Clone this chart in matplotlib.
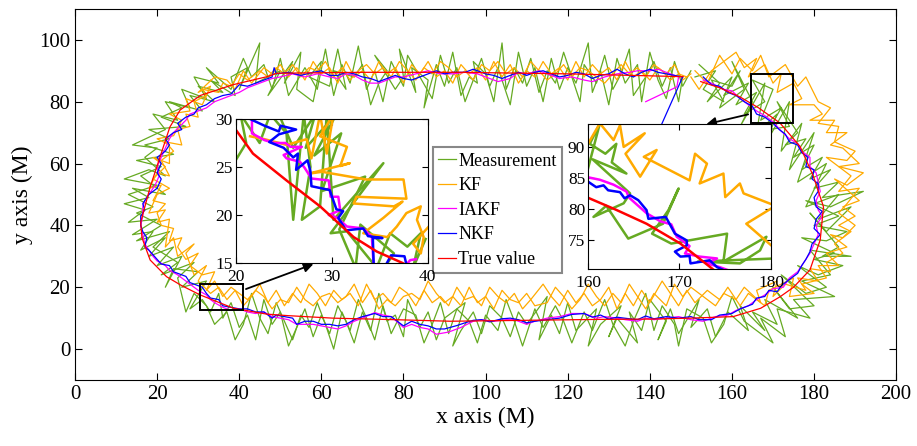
import matplotlib.pyplot as plt
import numpy as np
from matplotlib.patches import Rectangle

plt.rcParams['font.family'] = ['Liberation Serif', 'DejaVu Serif']

# colours (MATLAB-ish)
C_MEAS = '#66aa22'
C_KF = '#ffaa00'
C_IAKF = '#ff00ff'
C_NKF = '#0000ff'
C_TRUE = '#ff0000'

# ---------------- main trajectory data (x, y), clockwise from top right ----------------
true_pts = [(152.4, 86.5), (157, 84.5), (162, 81.5), (166.5, 78), (171.7, 73.1), (176.6, 65.5),
            (179.8, 56), (182.3, 46), (181.5, 35.3), (179, 25.6), (175, 20), (171.7, 16.9),
            (167, 13.2), (160.3, 10.5), (150, 10), (140, 9.7), (128, 9.6), (115.7, 9.4),
            (104, 9.2), (91.4, 9.0), (78, 9.5), (62.8, 10), (52, 10.8), (46.7, 11.3),
            (38.6, 13.2), (30.5, 17.5), (26, 20.5), (22.3, 23.4), (18.3, 28.8), (16.3, 36),
            (16.0, 41), (16.6, 44), (18.3, 52.4), (20.7, 62.1), (23.1, 71.8), (25.6, 77.3),
            (30.5, 82), (38.5, 85.5), (46.8, 88.1), (49.2, 89.2), (70, 89.5), (93.8, 89.5),
            (120, 89), (148.1, 88.1)]

# measurement, first pass
meas_right = [(151, 88), (156, 90), (153, 84), (158, 80), (155, 87), (160, 85), (162, 90), (158, 82),
              (164, 86), (161, 79), (166, 83), (163, 76), (168, 80), (165, 87), (170, 84), (167, 74),
              (172, 78), (169, 71), (174, 72), (171, 80), (176, 70), (173, 66), (178, 68), (175, 62),
              (180, 66), (177, 58), (182, 62), (179, 55), (184, 58), (180, 52), (186, 54), (182, 49),
              (192, 51), (184, 46), (178, 48), (186, 43), (180, 40), (188, 38), (183, 35), (177, 36),
              (185, 31), (180, 29), (187, 27), (181, 24), (176, 27), (183, 20), (178, 18), (172, 24),
              (180, 14), (174, 13), (170, 20), (176, 10), (168, 16), (171, 8), (165, 12), (168, 6),
              (162, 14), (164, 6), (159, 12)]
meas_bottom = [(156, 4), (154, 13), (150, 7), (152, 16), (147, 5), (145, 13), (142, 3), (144, 9),
               (140, 16), (138, 6), (135, 12), (137, 2), (132, 10), (130, 4), (133, 14), (128, 8),
               (125, 1), (127, 13), (122, 6), (120, 15), (118, 5), (116, 11), (113, 3), (115, 17),
               (110, 8), (108, 12), (106, 4), (104, 10), (101, 14), (99, 5), (97, 12), (94, 6),
               (92, 1), (95, 15), (90, 10), (88, 3), (86, 12), (84, 7), (81, 16), (80, 4), (78, 11),
               (76, 9), (74, 18), (72, 6), (70, 12), (68, 2), (66, 9), (64, 14), (62, 5), (60, 11),
               (58, 4), (56, 13), (54, 7), (52, 1), (50, 12), (48, 8), (46, 16), (44, 3), (42, 11),
               (40, 7), (38, 15), (36, 10), (35, 18), (33, 12), (31, 16)]
meas_left = [(28, 13), (32, 22), (26, 20), (30, 25), (24, 26), (22, 20), (26, 30), (20, 27), (24, 33),
             (18, 30), (22, 36), (16, 32), (19, 38), (14, 37), (20, 42), (13, 41), (17, 45), (12, 47),
             (18, 49), (14, 52), (22, 50), (16, 56), (21, 59), (15, 61), (24, 63), (17, 66), (23, 68),
             (18, 71), (27, 72), (21, 75), (26, 78), (23, 80), (31, 77), (28, 82), (34, 80), (30, 85),
             (36, 83), (33, 87), (39, 82), (38, 88), (42, 91), (40, 84), (45, 99), (44, 86), (50, 90),
             (47, 82), (53, 93), (51, 86)]
meas_top = [(55, 96), (54, 84), (58, 80), (60, 93), (57, 88), (62, 85), (64, 97), (66, 84), (63, 90),
            (68, 88), (70, 92), (72, 79), (74, 86), (76, 90), (73, 95), (78, 84), (80, 88), (79, 97),
            (83, 83), (82, 91), (86, 87), (85, 78), (88, 92), (90, 85), (92, 96), (94, 82), (96, 88),
            (98, 86), (97, 93), (100, 89), (102, 80), (104, 99), (105, 84), (107, 91), (109, 86),
            (111, 94), (113, 83), (115, 90), (117, 86), (119, 96), (121, 88), (123, 80), (124, 92),
            (127, 86), (129, 95), (131, 84), (133, 89), (135, 97), (136, 82), (139, 88), (141, 93),
            (143, 85), (145, 91), (147, 80), (148, 88)]

# measurement, second pass (same series, drawn as a second stroke)
meas2_right = [(152, 92), (157, 86), (154, 80), (160, 88), (157, 78), (163, 84), (160, 93), (165, 80),
               (162, 72), (168, 86), (166, 70), (171, 76), (168, 66), (174, 80), (172, 64), (177, 73),
               (174, 58), (180, 70), (176, 54), (183, 60), (178, 46), (186, 50), (181, 42), (189, 46),
               (183, 38), (179, 44), (186, 33), (182, 30), (189, 30), (179, 32), (184, 24), (177, 22),
               (185, 17), (175, 16), (179, 10), (171, 13), (173, 4), (167, 10), (170, 2), (163, 9),
               (160, 17)]
meas2_bottom = [(158, 8), (155, 2), (153, 10), (149, 13), (147, 1), (146, 8), (143, 14), (141, 6),
                (139, 18), (136, 9), (134, 1), (131, 8), (129, 16), (126, 6), (124, 12), (121, 2),
                (119, 9), (117, 14), (114, 7), (112, 13), (109, 1), (107, 9), (105, 16), (103, 6),
                (100, 11), (98, 2), (96, 9), (93, 13), (91, 5), (89, 15), (87, 8), (85, 2), (83, 11),
                (80, 13), (77, 5), (75, 14), (73, 3), (71, 10), (69, 16), (67, 6), (65, 12), (63, 0),
                (61, 8), (59, 15), (57, 7), (55, 11), (53, 3), (51, 9), (49, 15), (47, 5), (45, 10),
                (43, 18), (41, 8), (39, 3), (37, 12), (34, 8), (32, 14)]
meas2_left = [(29, 18), (27, 12), (25, 23), (29, 28), (21, 24), (25, 28), (19, 33), (23, 38), (15, 35),
              (21, 40), (15, 44), (19, 46), (13, 50), (20, 53), (12, 55), (18, 58), (22, 56), (17, 62),
              (20, 65), (14, 66), (22, 71), (19, 76), (25, 74), (22, 80), (28, 78), (26, 84), (32, 81),
              (29, 88), (35, 86), (32, 91), (38, 84), (41, 94), (43, 88), (46, 92), (48, 84)]
meas2_top = [(50, 94), (52, 82), (56, 91), (59, 84), (61, 97), (63, 82), (65, 92), (67, 86), (69, 98),
             (71, 84), (73, 90), (75, 80), (77, 93), (80, 85), (81, 95), (84, 88), (87, 81), (89, 95),
             (91, 86), (93, 91), (95, 80), (99, 94), (101, 85), (103, 91), (106, 79), (108, 96),
             (110, 85), (112, 91), (114, 80), (116, 94), (118, 84), (120, 91), (122, 86), (125, 99),
             (126, 83), (128, 90), (130, 79), (132, 94), (134, 86), (137, 92), (138, 80), (140, 96),
             (142, 87), (144, 81), (146, 93), (148, 85), (150, 90)]

# KF estimate, first pass
kf_right = [(150, 88), (152, 84), (155, 90), (158, 93), (161, 96), (163, 91), (166, 94), (164, 88),
            (168, 92), (170, 86), (172, 89), (171, 83), (175, 86), (177, 81), (174, 79), (180, 79),
            (182, 76), (179, 74), (185, 74), (183, 70), (188, 70), (184, 66), (187, 65), (191, 60),
            (186, 59), (192, 57), (188, 53), (185, 55), (191, 48), (187, 46), (190, 43), (186, 40),
            (189, 38), (185, 34), (187, 31), (183, 28), (184, 25), (179, 26), (181, 22), (176, 23),
            (178, 19), (173, 21), (170, 17), (171, 22), (166, 19), (167, 15), (163, 20), (161, 16),
            (158, 18), (156, 14), (153, 17)]
kf_bottom = [(150, 20), (148, 17), (146, 21), (144, 14), (141, 18), (139, 13), (137, 17), (135, 21),
             (133, 15), (131, 18), (129, 14), (127, 17), (125, 21), (123, 16), (121, 13), (119, 17),
             (117, 20), (115, 15), (112, 14), (110, 18), (108, 15), (106, 16), (104, 19), (102, 13),
             (100, 17), (98, 15), (96, 20), (94, 14), (92, 17), (90, 15), (88, 18), (86, 22), (84, 16),
             (82, 18), (80, 17), (78, 14), (76, 16), (74, 13), (72, 19), (70, 15), (68, 21), (66, 17),
             (64, 15), (62, 18), (60, 17), (58, 14), (56, 16), (54, 20), (52, 15), (50, 16), (48, 13),
             (46, 17), (44, 19), (42, 16), (40, 18), (38, 20), (36, 17), (34, 22)]
kf_left = [(32, 19), (34, 25), (31, 24), (28, 27), (30, 31), (27, 29), (25, 33), (26, 36), (23, 35),
           (24, 39), (21, 40), (20, 44), (22, 47), (19, 48), (21, 53), (18, 52), (20, 57), (23, 56),
           (21, 61), (24, 64), (22, 67), (26, 66), (25, 71), (28, 72), (27, 76), (30, 75), (29, 80),
           (32, 82), (31, 84), (35, 83), (36, 86), (38, 85), (40, 89), (42, 87), (45, 90), (47, 88),
           (49, 91)]
kf_top = [(51, 89), (53, 92), (55, 88), (57, 91), (59, 90), (61, 93), (63, 88), (65, 91), (67, 87),
          (69, 90), (71, 92), (73, 89), (75, 91), (77, 88), (79, 93), (81, 90), (83, 87), (85, 91),
          (87, 89), (89, 93), (91, 91), (93, 88), (95, 90), (97, 87), (99, 92), (101, 90), (103, 93),
          (105, 89), (107, 91), (109, 88), (111, 93), (113, 90), (115, 87), (117, 89), (119, 92),
          (121, 88), (123, 91), (125, 90), (127, 88), (129, 86), (131, 89), (133, 92), (135, 89),
          (137, 91), (139, 88), (141, 92), (143, 90), (145, 87), (147, 89), (149, 88)]

# KF estimate, second pass
kf2_right = [(151, 90), (154, 86), (157, 95), (160, 89), (162, 94), (165, 90), (167, 95), (169, 88),
             (173, 92), (176, 85), (178, 88), (181, 80), (184, 78), (181, 73), (186, 72), (185, 67),
             (190, 64), (188, 61), (183, 62), (189, 56), (186, 51), (191, 52), (188, 47), (186, 44),
             (190, 40), (187, 36), (184, 37), (188, 33), (183, 31), (186, 27), (181, 27), (183, 23),
             (177, 21), (180, 18), (174, 17), (175, 23), (169, 19), (168, 14), (164, 18), (162, 14),
             (159, 20), (157, 16)]
kf2_bottom = [(154, 19), (151, 15), (149, 19), (147, 14), (145, 18), (143, 22), (140, 15), (138, 19),
              (136, 14), (134, 18), (132, 13), (130, 20), (128, 16), (126, 14), (124, 18), (122, 15),
              (120, 19), (118, 14), (116, 17), (114, 21), (111, 16), (109, 13), (107, 18), (105, 15),
              (103, 17), (101, 20), (99, 14), (97, 17), (95, 16), (93, 20), (91, 14), (89, 17),
              (87, 15), (85, 19), (83, 14), (81, 18), (79, 20), (77, 15), (75, 18), (73, 16), (71, 21),
              (69, 14), (67, 18), (65, 16), (63, 19), (61, 14), (59, 18), (57, 21), (55, 15), (53, 18),
              (51, 14), (49, 19), (47, 15), (45, 21), (43, 17), (41, 14), (39, 19), (37, 16), (35, 20),
              (33, 18)]
kf2_left = [(30, 22), (32, 27), (29, 24), (27, 31), (29, 34), (25, 30), (24, 36), (22, 33), (23, 42),
            (20, 41), (22, 45), (18, 44), (20, 50), (23, 52), (19, 55), (22, 59), (19, 62), (23, 60),
            (23, 66), (20, 68), (24, 69), (26, 74), (23, 76), (28, 77), (27, 81), (31, 79), (33, 85),
            (30, 83), (34, 88), (37, 87), (39, 84), (41, 90), (43, 86), (46, 91), (48, 89)]
kf2_top = [(50, 92), (52, 88), (54, 91), (56, 87), (58, 93), (60, 89), (62, 91), (64, 86), (66, 93),
           (68, 88), (70, 90), (72, 87), (74, 93), (76, 89), (78, 91), (80, 86), (82, 92), (84, 89),
           (86, 93), (88, 88), (90, 90), (92, 86), (94, 92), (96, 89), (98, 91), (100, 87), (102, 93),
           (104, 88), (106, 92), (108, 86), (110, 90), (112, 88), (114, 93), (116, 89), (118, 91),
           (120, 87), (122, 93), (124, 88), (126, 92), (128, 89), (130, 91), (132, 87), (134, 93),
           (136, 88), (138, 90), (140, 87), (142, 91), (144, 89), (146, 92), (148, 87), (150, 89)]

iakf_pts = [(153, 87), (155, 86), (158, 84), (160, 83.5), (162, 81), (164, 79), (166, 77), (168, 75.5),
            (170, 73.5), (172, 70.5), (174, 68), (176, 66.5), (177, 64), (179, 62), (179, 59),
            (180.5, 57), (181, 54), (181.5, 51), (180.5, 48), (181, 45), (182, 43), (180.5, 40),
            (181, 37), (180, 34), (179, 31), (177.5, 28), (176, 25), (174, 23), (172.5, 20),
            (170, 19.5), (168, 17.5), (166, 16), (164, 14), (161, 12.5), (159, 11), (156, 10.5),
            (153, 9), (150, 9.5), (147, 10.5), (144, 10), (141, 9.5), (139, 10), (137, 9), (134, 9.5),
            (132, 10), (129, 10.5), (127, 10), (124, 11.5), (121, 11.5), (118, 10.5), (115, 10),
            (112, 9), (110, 8), (107, 9.5), (105, 9.5), (102, 9), (99, 9.5), (97, 9), (94, 7),
            (91, 5.5), (88, 4.8), (86, 6.5), (84, 7), (82, 8), (80, 7), (77, 10.5), (75, 11),
            (73, 11.8), (70, 10), (68, 9), (66, 7.5), (64, 6.5), (62, 7), (60, 7.5), (58, 8), (56, 8),
            (54, 8), (52, 9.5), (50, 10), (48, 10.5), (46, 12), (44, 11.5), (42, 12), (40, 13),
            (38, 12.5), (36, 13.5), (34, 15), (33, 16), (32, 17.5), (30, 19), (28, 21), (26, 23),
            (25, 24), (23, 25.5), (22, 27), (20, 28.5), (19, 30), (18, 32), (17, 34), (16.5, 37),
            (16, 40), (16.5, 43), (16.5, 46), (17, 48), (18, 50), (19.5, 53), (20.5, 56), (20, 59),
            (21, 62), (22, 65), (23, 68), (24, 70), (25.5, 72), (27, 74), (28, 76), (30, 77), (32, 78),
            (34, 80), (36, 81), (38, 82), (40, 83), (42, 84.5), (44, 85.5), (46, 86.5), (48, 87.5),
            (50, 88), (53, 89), (56, 88), (59, 89), (62, 88), (64, 87.5), (66, 89), (68, 88.5),
            (70, 87), (72, 86), (74, 86), (76, 87), (78, 88), (80, 88), (83, 89), (86, 90), (89, 89),
            (92, 89), (95, 89.5), (98, 89), (100, 88), (103, 86.5), (106, 87.5), (108, 89.5),
            (110, 89), (113, 90), (115, 89), (118, 87.5), (121, 88), (124, 87), (126, 86.5), (129, 88),
            (132, 89), (135, 89.5), (137, 90), (140, 90), (142, 90.5), (145, 89), (147, 88),
            (146.6, 84.8), (139, 80)]

nkf_pts = [(153, 88), (155, 85.5), (157, 85), (159, 83), (161, 82), (163, 80), (165, 78.5), (166, 76),
           (168, 75), (170, 73), (171.5, 71), (173, 69.5), (174, 67), (176, 66), (177, 63.5),
           (178.5, 62), (178, 59), (180, 58), (179.5, 55), (181, 53.5), (181, 51), (180, 49),
           (180.5, 46), (182, 44.5), (180.5, 42), (180, 39), (181.5, 37), (179.5, 34), (179, 31.5),
           (178, 29), (177, 27), (176, 24.5), (174, 22.5), (172, 20.5), (171, 18.5), (169, 19),
           (168, 17), (166, 16.5), (165, 14.5), (162, 13), (160, 11.5), (157, 11), (155, 9.5),
           (152, 9.5), (150, 10.5), (147, 10), (144, 10.5), (141, 9.8), (139, 10.7), (137, 9.5),
           (135, 9.8), (132, 10.3), (130, 9.7), (128, 11), (126, 10.3), (124, 11.5), (121, 11.2),
           (118, 10), (115, 9.5), (112, 9), (110, 8.5), (108, 9.5), (106, 10), (104, 9.8), (101, 8.8),
           (99, 9.5), (97, 9.3), (95, 8.5), (93, 7.6), (90, 6.5), (88, 6.5), (86, 7.5), (84, 8),
           (82, 9), (80, 7.5), (77, 10.5), (75, 10.5), (73, 11.5), (70, 10.5), (68, 9.5), (66, 8),
           (64, 7.5), (62, 8), (60, 8), (58, 9), (56, 9), (54, 8), (53, 10), (51, 10.5), (49, 11),
           (48, 10), (46, 12), (44, 12), (42, 13), (40, 13), (38, 13.5), (36, 14), (35, 16),
           (33, 16.5), (32, 18), (31, 20), (29, 21), (28, 21.5), (27, 23.5), (25, 24.5), (24, 25),
           (23, 27), (21, 27.5), (20, 29), (19, 30.5), (18, 32), (17, 33), (17.5, 36), (16.5, 38),
           (16, 40), (16, 43), (17, 45), (16.5, 47), (17.5, 49), (18, 50), (20, 52), (21, 55),
           (20, 57), (21, 60), (20, 62), (22, 64), (23, 66), (22, 68), (24, 70), (26, 71), (25, 73),
           (27, 75), (29, 76), (30, 78), (32, 79), (34, 81), (36, 82), (38, 82.5), (39, 84),
           (40, 85.5), (42, 85), (44, 86), (46, 87), (48, 88), (48.5, 91), (49, 89), (52, 89.5),
           (55, 88.5), (58, 89.5), (60, 90), (62, 88.5), (64, 88.5), (66, 89.5), (68, 89), (70, 88),
           (72, 87.5), (74, 86.5), (76, 87.5), (78, 88.5), (80, 87.5), (82, 87), (84, 88), (86, 89),
           (88, 90), (90, 89), (92, 89.5), (95, 89.5), (97, 90.5), (100, 89), (102, 88.5),
           (104, 87.5), (106, 88.5), (108, 89.5), (110, 88.5), (112, 89.5), (114, 90), (116, 89),
           (118, 88), (120, 88.5), (122, 89.5), (124, 89), (126, 87.5), (128, 88.5), (130, 89),
           (132, 90.5), (134, 89), (136, 88), (138, 89.5), (140, 90.5), (142, 89.5), (144, 89),
           (146, 88.5), (148, 88), (139.3, 62)]

# ---------------- zoom window 1 (x 20-40, y 15-30) ----------------
z1_meas = [(20, 25.7), (21.1, 27.5), (20.5, 30.5), (22.5, 27.5), (23.6, 30.5), (25.3, 28.5),
           (26, 19.5), (27.1, 30.5), (27.8, 25), (26.9, 19.5), (28.8, 20.9), (29.5, 30.5),
           (30.2, 19.5), (35.4, 25.4), (29.9, 18.1), (31.6, 18.3), (34.7, 14.5), (36.1, 18.1),
           (37.9, 16.7), (39.3, 18.1), (38.5, 14.5), (39.8, 17.5)]
z1_meas2 = [(24.5, 30.5), (26, 27), (28.3, 30.5), (27.3, 27), (30.5, 30.5), (28.2, 26.2), (31, 28.5),
            (29, 22.5), (33.5, 24), (30.8, 18.5), (32.5, 14.5), (33, 19), (36.5, 16), (35.5, 14.5)]
z1_kf = [(21.5, 28.2), (23, 27.9), (25.3, 27.3), (27.4, 27.9), (27.9, 25.9), (28.8, 30.5),
         (29.5, 26.4), (30.2, 30.5), (28.8, 28.2), (31.6, 27.1), (30.9, 25.1), (31.9, 25.4),
         (27.6, 24.3), (29, 24.5), (33.6, 23.7), (37.5, 23.7), (37.8, 21.7), (32.6, 21.9),
         (32.3, 21.2), (35.1, 21), (36.5, 20.9), (37.4, 21.4), (35.4, 19.7), (33.3, 18.1),
         (35.8, 17.7), (36.8, 18.8), (37.8, 20.2), (39.3, 20.9), (38.9, 19.5), (39.6, 17.7),
         (39.3, 16), (38.5, 17), (40.5, 19.2)]
z1_iakf = [(21.7, 30), (21.7, 28.5), (23, 27.8), (24, 27.5), (25.2, 27.5), (25.7, 27.1), (26.9, 27.1),
           (25, 26.25), (25.3, 25.9), (26.7, 25.55), (27.2, 24.9), (27.9, 23.8), (29.7, 23.6),
           (29.9, 21.9), (30.7, 21.9), (30.9, 20.5), (29.7, 20), (30.6, 19.7), (31.6, 18.8),
           (33.3, 18.6), (34.2, 17.7), (34.4, 14.5), (37.5, 14.5), (38.2, 15.3), (38.8, 15.4)]
z1_nkf = [(21.5, 30), (23, 29.3), (24.5, 28.7), (24.7, 29.3), (26.3, 28.9), (24.5, 28.4), (23.5, 27.6),
          (25, 27), (26, 26), (26.5, 26.4), (26.3, 24.7), (27.5, 25.7), (27.8, 24.5), (27.9, 23),
          (29.8, 22.6), (30.5, 20.6), (31.2, 20.4), (30.7, 19.7), (31.5, 18.4), (33.3, 18.6),
          (33.8, 17.8), (35.3, 17.6), (34.3, 17.6), (34.4, 14.5), (35.5, 14.5), (36.2, 15.8),
          (37.6, 15.7), (38, 14)]
z1_true = [(20, 28.9), (21.8, 26.4), (25.3, 23.6), (28.8, 20.9), (32.3, 17.7), (34.7, 16.2),
           (37.4, 15), (39, 14)]

# ---------------- zoom window 2 (x 160-180, y 70-94) ----------------
z2_meas = [(160, 86.5), (161.3, 93.8), (160.2, 90.5), (161.9, 88.9), (163.1, 90.5), (162.6, 87.5),
           (164.2, 85.7), (160.5, 88), (164.6, 82.5), (163.9, 80.9), (160.6, 78.7), (162, 80.5),
           (164.4, 75.2), (168.2, 77.6), (169.9, 83.3), (168.8, 79.8), (167, 76), (169.1, 74.4),
           (175.2, 76), (174.8, 71.5), (179.5, 75.5), (178.8, 73.3), (176.6, 71.2), (172, 71.5),
           (180.5, 72)]
z2_meas2 = []
z2_kf = [(160, 90.5), (161.3, 93.8), (162.8, 91.1), (163.5, 93.5), (163.9, 90), (166.2, 92.2),
         (164.1, 88.9), (165.7, 85.2), (167.5, 89.5), (166.1, 88.4), (171.1, 84.6), (171.7, 88.9),
         (173, 87.3), (172.2, 84.1), (174.8, 85.7), (175, 81.9), (176.6, 84.1), (177, 82.5),
         (180.5, 80.5), (177.3, 77.6), (180.5, 73.5)]
z2_iakf = [(160, 85.1), (161.3, 84.7), (162.8, 83.9), (164.2, 82.8), (164.5, 81.8), (166.4, 79.3),
           (167.9, 78), (169.1, 77.5), (169.7, 75.5), (171.1, 74), (170.6, 72.8), (172.2, 72.3),
           (174.1, 72), (173, 71.2), (174.4, 70.6), (175.5, 70)]
z2_nkf = [(160, 84.4), (160.9, 83.5), (161.7, 83.8), (162.2, 83), (163.5, 82.7), (164, 81.7),
          (164.6, 82.2), (165.5, 81.4), (166.4, 79.8), (166.6, 78.4), (168.5, 78.7), (168.8, 77.9),
          (169.5, 76), (170.8, 74.9), (170.8, 74.1), (169.5, 73.1), (170.1, 72.3), (171.1, 72.4),
          (171.2, 71.2), (173.3, 71.7), (174.1, 70.6), (175, 70)]
z2_true = [(160, 81.8), (163, 79.9), (166.4, 77.6), (170.1, 74.4), (173.7, 70.2), (175, 69)]

labels = ['Measurement', 'KF', 'IAKF', 'NKF', 'True value']


def xy(pts):
    a = np.array(pts, dtype=float).reshape(-1, 2)
    return a[:, 0], a[:, 1]


fig = plt.figure(figsize=(9.17, 4.46), dpi=100)
ax = fig.add_axes([0.0818, 0.148, 0.8955, 0.832])

meas = meas_right + meas_bottom + meas_left + meas_top
meas2 = meas2_right + meas2_bottom + meas2_left + meas2_top
kf = kf_right + kf_bottom + kf_left + kf_top
kf2 = kf2_right + kf2_bottom + kf2_left + kf2_top

ax.plot(*xy(meas2), color=C_MEAS, lw=0.9)
h_meas, = ax.plot(*xy(meas), color=C_MEAS, lw=0.9)
ax.plot(*xy(kf2), color=C_KF, lw=0.9)
h_kf, = ax.plot(*xy(kf), color=C_KF, lw=0.9)
h_iakf, = ax.plot(*xy(iakf_pts), color=C_IAKF, lw=0.9)
h_nkf, = ax.plot(*xy(nkf_pts), color=C_NKF, lw=0.9)
h_true, = ax.plot(*xy(true_pts), color=C_TRUE, lw=0.9)
handles = [h_meas, h_kf, h_iakf, h_nkf, h_true]

ax.set_xlim(0, 200)
ax.set_ylim(-10, 110)
ax.set_xticks(np.arange(0, 201, 20))
ax.set_yticks(np.arange(0, 101, 20))
ax.tick_params(direction='in', top=True, right=True, labelsize=15, length=5, width=0.8)
ax.set_xlabel('x axis (M)', fontsize=17, labelpad=2)
ax.set_ylabel('y axis (M)', fontsize=17, labelpad=4)

# zoom boxes and arrows
ax.add_patch(Rectangle((30.4, 12.6), 10.6, 8.3, fill=False, ec='black', lw=1.4, zorder=5))
ax.add_patch(Rectangle((164.6, 73.0), 10.3, 16.0, fill=False, ec='black', lw=1.4, zorder=5))
ax.annotate('', xy=(58.7, 27.8), xytext=(41.0, 19.1),
            arrowprops=dict(arrowstyle='-|>', color='black', lw=1.3, mutation_scale=14), zorder=6)
ax.annotate('', xy=(153.1, 72.5), xytext=(164.6, 76.1),
            arrowprops=dict(arrowstyle='-|>', color='black', lw=1.3, mutation_scale=14), zorder=6)

# insets
insets = [
    ([0.257, 0.4103, 0.2092, 0.3229], (z1_meas2, z1_meas, z1_kf, z1_iakf, z1_nkf, z1_true),
     (20, 40), (15, 30), [20, 30, 40], [15, 20, 25, 30]),
    ([0.6412, 0.3969, 0.1996, 0.3251], (z2_meas2, z2_meas, z2_kf, z2_iakf, z2_nkf, z2_true),
     (160, 180), (70.3, 93.7), [160, 170, 180], [75, 80, 85, 90]),
]
cols = [C_MEAS, C_MEAS, C_KF, C_IAKF, C_NKF, C_TRUE]
for pos, data, xl, yl, xt, yt in insets:
    axi = fig.add_axes(pos)
    for pts, col in zip(data, cols):
        if pts:
            axi.plot(*xy(pts), color=col, lw=1.8)
    axi.set_xlim(*xl)
    axi.set_ylim(*yl)
    axi.set_xticks(xt)
    axi.set_yticks(yt)
    axi.tick_params(direction='in', top=True, right=True, labelsize=12.5, length=4, width=0.8, pad=2)
    axi.tick_params(axis='x', pad=4)

leg = ax.legend(handles=handles, labels=labels, loc='upper left', bbox_to_anchor=(0.472, 0.670),
                bbox_transform=fig.transFigure, fontsize=13, frameon=True, fancybox=False,
                edgecolor='#888888', framealpha=1, handlelength=1.0, handletextpad=0.1,
                labelspacing=0.42, borderpad=0.3, borderaxespad=0)
leg.get_frame().set_linewidth(1.5)
leg.set_zorder(10)

fig.savefig('out.png', dpi=100)
